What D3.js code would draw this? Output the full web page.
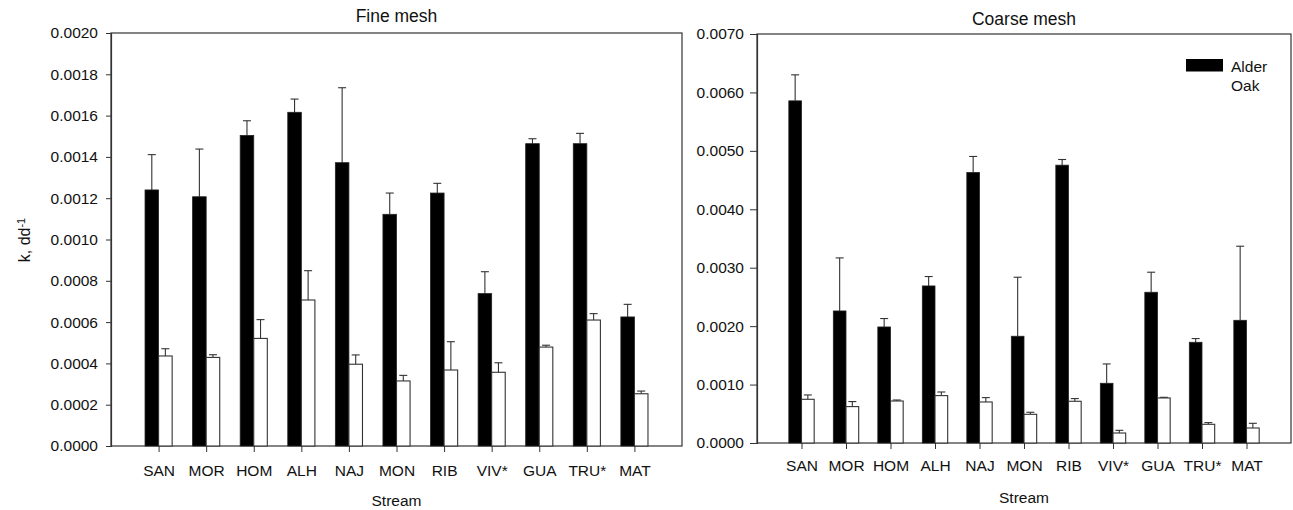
<!DOCTYPE html>
<html>
<head>
<meta charset="utf-8">
<script src="https://cdn.jsdelivr.net/npm/d3@7"></script>
<style>
  body { margin: 0; background: #fff; }
  svg { font-family: "Liberation Sans", Arial, sans-serif; }
</style>
</head>
<body>
<svg id="chart" width="1293" height="510"></svg>
<script>
const streams = ['SAN', 'MOR', 'HOM', 'ALH', 'NAJ', 'MON', 'RIB', 'VIV*', 'GUA', 'TRU*', 'MAT'];

// Fine mesh: mean k and standard error
const fineAlder = [0.00124, 0.001207, 0.001504, 0.001616, 0.001372, 0.001122, 0.001225, 0.000738, 0.001464, 0.001464, 0.000625];
const fineAlderSE = [0.000171, 0.000231, 0.000071, 0.000064, 0.000363, 0.000103, 0.000047, 0.000106, 0.000024, 0.00005, 0.000061];
const fineOak = [0.000436, 0.000429, 0.000521, 0.000707, 0.000396, 0.000315, 0.000368, 0.000357, 0.000479, 0.00061, 0.000253];
const fineOakSE = [0.000035, 0.000013, 0.000091, 0.000142, 0.000045, 0.000027, 0.000137, 0.000046, 0.000009, 0.000031, 0.000013];

// Coarse mesh
const coarseAlder = [0.005856, 0.00226, 0.001986, 0.002688, 0.00463, 0.001827, 0.004755, 0.001022, 0.00258, 0.001724, 0.0021];
const coarseAlderSE = [0.000445, 0.000908, 0.000144, 0.000161, 0.000274, 0.00101, 0.000097, 0.000331, 0.000343, 0.000063, 0.001268];
const coarseOak = [0.000748, 0.000623, 0.000719, 0.000811, 0.000702, 0.000491, 0.000714, 0.000171, 0.000771, 0.00032, 0.000257];
const coarseOakSE = [0.000074, 0.000086, 0.000017, 0.000062, 0.000075, 0.000035, 0.000046, 0.000046, 0.000011, 0.000029, 0.00008];

const fineTicks = [0, 0.0002, 0.0004, 0.0006, 0.0008, 0.001, 0.0012, 0.0014, 0.0016, 0.0018, 0.002];
const coarseTicks = [0, 0.001, 0.002, 0.003, 0.004, 0.005, 0.006, 0.007];

const svg = d3.select('#chart');
const axisColor = '#333';

function drawPanel(opts) {
    const { left, right, top, bottom, yMax, ticks, title, titleY, xPad, xTitleY, ySize, alder, alderSE, oak, oakSE } = opts;

    const x = d3.scalePoint().domain(streams).range([left, right]).padding(1);
    const y = d3.scaleLinear().domain([0, yMax]).range([bottom, top]);
    const step = x.step();
    const bw = step * 0.285;

    const g = svg.append('g');

    // frame
    g.append('rect')
        .attr('x', left).attr('y', top)
        .attr('width', right - left).attr('height', bottom - top)
        .attr('fill', 'none').attr('stroke', axisColor).attr('stroke-width', 1.2);

    const rows = streams.map((s, i) => ({ s, a: alder[i], ae: alderSE[i], o: oak[i], oe: oakSE[i] }));

    // error bars (upper only)
    const errs = [];
    rows.forEach(d => {
        errs.push({ cx: x(d.s) - bw / 2, v: d.a, e: d.ae });
        errs.push({ cx: x(d.s) + bw / 2, v: d.o, e: d.oe });
    });
    const eg = g.append('g').attr('stroke', axisColor).attr('stroke-width', 1.1);
    errs.forEach(d => {
        eg.append('line').attr('x1', d.cx).attr('x2', d.cx).attr('y1', y(d.v)).attr('y2', y(d.v + d.e));
        eg.append('line').attr('x1', d.cx - 4).attr('x2', d.cx + 4).attr('y1', y(d.v + d.e)).attr('y2', y(d.v + d.e));
    });

    // alder bars
    g.selectAll('.alder').data(rows).enter().append('rect')
        .attr('x', d => x(d.s) - bw)
        .attr('y', d => y(d.a))
        .attr('width', bw)
        .attr('height', d => bottom - y(d.a))
        .attr('fill', '#000').attr('stroke', '#222').attr('stroke-width', 0.8);

    // oak bars
    g.selectAll('.oak').data(rows).enter().append('rect')
        .attr('x', d => x(d.s))
        .attr('y', d => y(d.o))
        .attr('width', bw)
        .attr('height', d => bottom - y(d.o))
        .attr('fill', '#fff').attr('stroke', axisColor).attr('stroke-width', 1.1);

    // y axis
    const ya = g.append('g').attr('transform', `translate(${left},0)`)
        .call(d3.axisLeft(y).tickValues(ticks).tickFormat(d3.format('.4f')).tickSize(ySize).tickPadding(13 - ySize));
    ya.select('.domain').attr('stroke', axisColor).attr('stroke-width', 1.2);
    ya.selectAll('line').attr('stroke', axisColor);
    ya.selectAll('text').style('font-size', '15.5px').attr('fill', '#111');

    // x axis
    const xa = g.append('g').attr('transform', `translate(0,${bottom})`)
        .call(d3.axisBottom(x).tickSize(6).tickPadding(xPad));
    xa.select('.domain').remove();
    xa.selectAll('line').attr('stroke', axisColor);
    xa.selectAll('text').style('font-size', '15.5px').attr('fill', '#111');

    // title and axis title
    g.append('text').attr('x', (left + right) / 2).attr('y', titleY)
        .attr('text-anchor', 'middle').style('font-size', '17.5px').attr('fill', '#111').text(title);
    g.append('text').attr('x', (left + right) / 2).attr('y', xTitleY)
        .attr('text-anchor', 'middle').style('font-size', '15.5px').attr('fill', '#111').text('Stream');

    return { x, y };
}

drawPanel({
    left: 111, right: 682, top: 33, bottom: 446, yMax: 0.002, ticks: fineTicks,
    title: 'Fine mesh', titleY: 22, xPad: 13, xTitleY: 506, ySize: 5,
    alder: fineAlder, alderSE: fineAlderSE, oak: fineOak, oakSE: fineOakSE
});

drawPanel({
    left: 757, right: 1291, top: 34, bottom: 443, yMax: 0.007, ticks: coarseTicks,
    title: 'Coarse mesh', titleY: 25, xPad: 11, xTitleY: 503, ySize: 7,
    alder: coarseAlder, alderSE: coarseAlderSE, oak: coarseOak, oakSE: coarseOakSE
});

// y axis label
const yl = svg.append('text')
    .attr('transform', 'translate(30,240) rotate(-90)')
    .attr('text-anchor', 'middle')
    .style('font-size', '16px').attr('fill', '#111');
yl.append('tspan').text('k, dd');
yl.append('tspan').attr('dy', '-0.45em').style('font-size', '11px').text('-1');

// legend
const legend = svg.append('g').attr('transform', 'translate(1186,59)');
legend.append('rect').attr('width', 37).attr('height', 12.5).attr('fill', '#000');
legend.append('rect').attr('y', 19).attr('width', 37).attr('height', 12.5).attr('fill', '#fff');
legend.append('text').attr('x', 45).attr('y', 12.5).style('font-size', '15.5px').attr('fill', '#111').text('Alder');
legend.append('text').attr('x', 45).attr('y', 31.5).style('font-size', '15.5px').attr('fill', '#111').text('Oak');
</script>
</body>
</html>
